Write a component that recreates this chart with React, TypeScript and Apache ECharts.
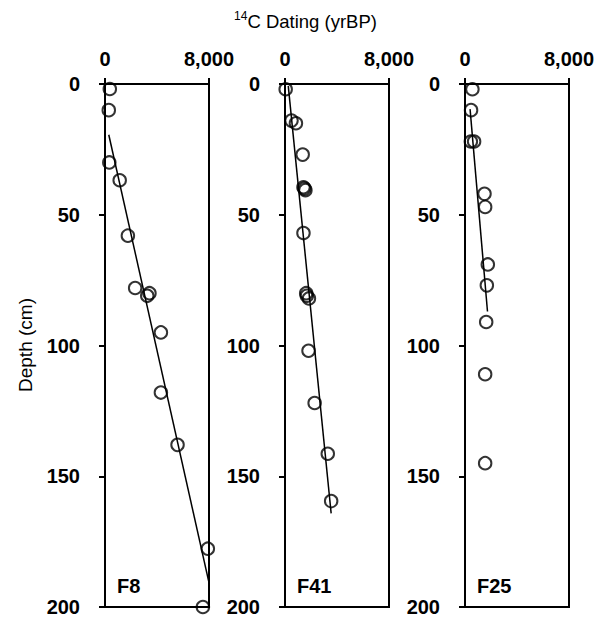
import React, { useEffect, useRef } from "react";
import * as echarts from "echarts";

// [age (yrBP), depth (cm)]
const f8Points: [number, number][] = [
  [370, 1.9], [290, 10], [330, 30], [1130, 36.8], [1760, 58], [2320, 78],
  [3250, 81], [3420, 80], [4300, 95], [4300, 118], [5580, 138], [7910, 177.7], [7530, 200],
];
const f8Trend: [number, number][] = [[290, 19.4], [7990, 190.5]];

const f41Points: [number, number][] = [
  [52, 2], [500, 14], [840, 15], [1360, 27], [1420, 39.5], [1500, 40], [1570, 40.6],
  [1420, 57], [1630, 80], [1680, 81], [1840, 82], [1810, 102], [2280, 122], [3290, 141.4], [3550, 159.5],
];
const f41Trend: [number, number][] = [[250, 0.7], [3550, 164.2]];

const f25Points: [number, number][] = [
  [570, 2], [465, 10], [450, 22], [700, 22], [1500, 42], [1550, 47], [1755, 69],
  [1680, 77], [1630, 91], [1550, 111], [1550, 145],
];
const f25Trend: [number, number][] = [[390, 9.6], [1730, 87]];

const panelNames = ["F8", "F41", "F25"];
const depthTicks = { min: 0, max: 200, interval: 50 };
const ageTicks = { min: 0, max: 8000, interval: 8000 };

const panels = [
  { points: f8Points, trend: f8Trend },
  { points: f41Points, trend: f41Trend },
  { points: f25Points, trend: f25Trend },
];

const gridLefts = [105, 285, 465];
const gridTop = 84;
const gridW = 104;
const gridH = 523;
const FONT = "'Liberation Sans', Arial, sans-serif";

export default function App() {
  const ref = useRef<HTMLDivElement>(null);
  useEffect(() => {
    if (!ref.current) return;
    const chart = echarts.init(ref.current, undefined, { renderer: "svg" });
    const axisLine = { show: true, lineStyle: { color: "#000", width: 2 } };
    const axisTick = { show: true, inside: false, length: 6, lineStyle: { color: "#000", width: 2 } };
    const labelBase = { color: "#000", fontSize: 20, fontWeight: "bold" as const, fontFamily: FONT, showMinLabel: true, showMaxLabel: true };

    const option: any = {
      animation: false,
      backgroundColor: "#fff",
      title: {
        left: "center",
        top: 5,
        text: "{sup|14}{main|C Dating (yrBP)}",
        textStyle: {
          fontWeight: "normal",
          rich: {
            sup: { fontSize: 12, fontWeight: "normal", fontFamily: FONT, color: "#000", verticalAlign: "top", lineHeight: 22, padding: [0, 0, 7, 0] },
            main: { fontSize: 18.5, fontWeight: "normal", fontFamily: FONT, color: "#000", lineHeight: 22 },
          },
        },
      },
      grid: gridLefts.map((left) => ({
        left, top: gridTop, width: gridW, height: gridH,
        show: true, borderColor: "#000", borderWidth: 2, backgroundColor: "transparent",
      })),
      xAxis: gridLefts.map((_, i) => ({
        type: "value", gridIndex: i, position: "top", ...ageTicks,
        axisLine, axisTick, splitLine: { show: false },
        axisLabel: { ...labelBase, margin: 15, formatter: (v: number) => v.toLocaleString("en-US") },
      })),
      yAxis: gridLefts.map((_, i) => ({
        type: "value", gridIndex: i, inverse: true, ...depthTicks,
        axisLine, axisTick, splitLine: { show: false },
        axisLabel: { ...labelBase, margin: 25 },
      })),
      series: panels.flatMap((p, i) => [
        {
          type: "line", xAxisIndex: i, yAxisIndex: i, data: p.trend,
          showSymbol: false, symbol: "none", lineStyle: { color: "#000", width: 1.5 }, z: 2,
        },
        {
          type: "scatter", xAxisIndex: i, yAxisIndex: i, data: p.points,
          symbol: "circle", symbolSize: 12.5, clip: false,
          itemStyle: { color: "rgba(0,0,0,0)", borderColor: "#000", borderWidth: 2 }, z: 3,
        },
      ]),
      graphic: [
        {
          type: "text", x: 25, y: 345, rotation: Math.PI / 2,
          style: { text: "Depth (cm)", fill: "#000", fontSize: 19, fontFamily: FONT, align: "center", verticalAlign: "middle" },
        },
        ...panelNames.map((name, i) => ({
          type: "text", x: gridLefts[i] + 12, y: 586,
          style: { text: name, fill: "#000", fontSize: 20, fontWeight: "bold", fontFamily: FONT, align: "left", verticalAlign: "middle" },
        })),
      ],
    };
    chart.setOption(option);
    return () => chart.dispose();
  }, []);
  return <div ref={ref} style={{ position: "fixed", left: 0, top: 0, width: 611, height: 619 }} />;
}
